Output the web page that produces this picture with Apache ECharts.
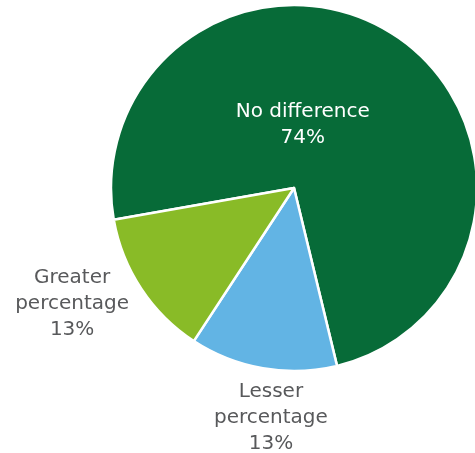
<!DOCTYPE html>
<html>
<head>
<meta charset="utf-8">
<script src="https://cdn.jsdelivr.net/npm/echarts@6/dist/echarts.min.js"></script>
<style>
  html, body { margin: 0; padding: 0; background: #fff; }
  #chart { width: 475px; height: 453px; }
</style>
</head>
<body>
<div id="chart"></div>
<script>
// slice names and shares (%)
const categories = ["No difference", "Lesser percentage", "Greater percentage"];
const shares = [74, 13, 13];
const sliceColors = ["#076b38", "#62b4e4", "#89bb27"];
// label tweaks per slice
const labelColors = ["#ffffff", "#58595b", "#58595b"];
const labelOffsets = [[-43, 16], [-7, 137], [-143, 64]];

const chart = echarts.init(document.getElementById("chart"));

const pieData = categories.map((name, i) => ({
  name: name,
  value: shares[i],
  itemStyle: { color: sliceColors[i] },
  label: {
    color: labelColors[i],
    offset: labelOffsets[i],
    formatter: i == 0 ? "{b}\n{c}%" : (p) => p.name.replace(" ", "\n") + "\n" + p.value + "%",
  },
}));

chart.setOption({
  animation: false,
  series: [
    {
      type: "pie",
      center: [294, 188],
      radius: 183,
      startAngle: 190,
      clockwise: true,
      itemStyle: { borderColor: "#ffffff", borderWidth: 2.5 },
      label: {
        show: true,
        position: "inside",
        fontFamily: "DejaVu Sans",
        fontSize: 20,
        lineHeight: 26,
        align: "center",
      },
      labelLine: { show: false },
      emphasis: { disabled: true },
      data: pieData,
    },
  ],
});
</script>
</body>
</html>
